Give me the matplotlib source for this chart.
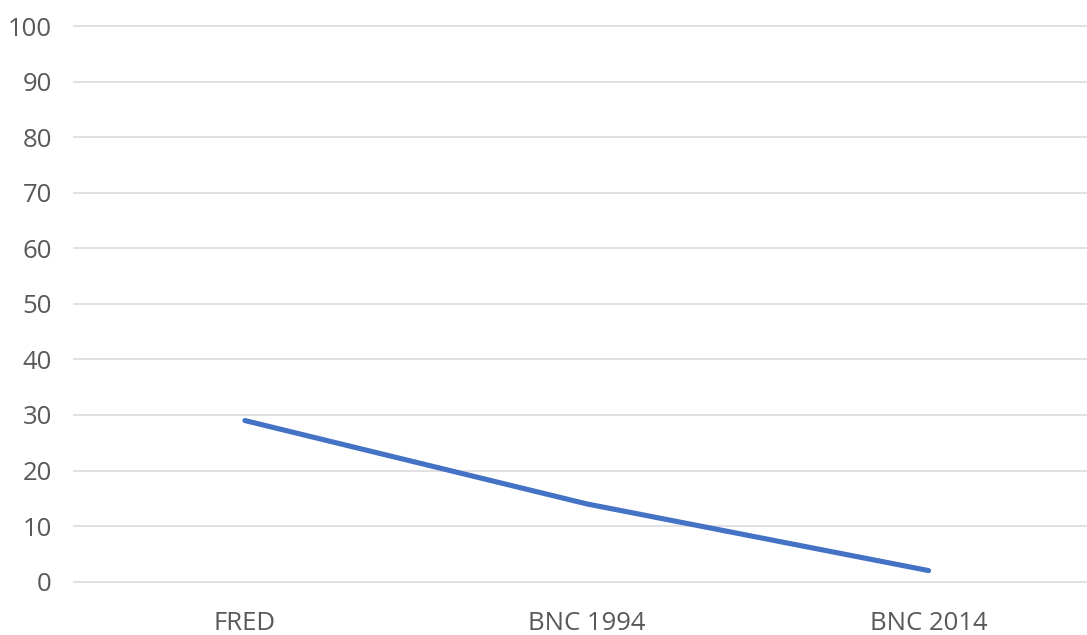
import matplotlib
matplotlib.use("Agg")
import matplotlib.pyplot as plt

categories = ["FRED", "BNC 1994", "BNC 2014"]
values = [29, 14, 2]
yticks = list(range(0, 101, 10))

plt.rcParams["font.family"] = ["Open Sans", "DejaVu Sans"]

W, H = 1087, 635
fig = plt.figure(figsize=(W / 100, H / 100), dpi=100)
left, right = 74, 1099.5
bottom, top = 581.7, 26
ax = fig.add_axes([left / W, (H - bottom) / H, (right - left) / W, (bottom - top) / H])

x = list(range(len(categories)))
ax.plot(x, values, color="#4472C4", linewidth=3.7, solid_capstyle="round", zorder=3)

ax.set_xlim(-0.5, len(categories) - 0.5)
ax.set_ylim(0, 100)
ax.set_yticks(yticks)
ax.set_xticks(x)
ax.set_xticklabels(categories)

ax.grid(axis="y", color="#D9D9D9", linewidth=1.1)
ax.set_axisbelow(True)
for gl in ax.get_ygridlines():
    gl.set_clip_on(False)

for s in ax.spines.values():
    s.set_visible(False)

ax.tick_params(axis="y", length=0, pad=16, labelsize=18.5, labelcolor="#595959")
ax.tick_params(axis="x", length=0, pad=21, labelsize=18.5, labelcolor="#595959")

fig.savefig("out.png", dpi=100)
